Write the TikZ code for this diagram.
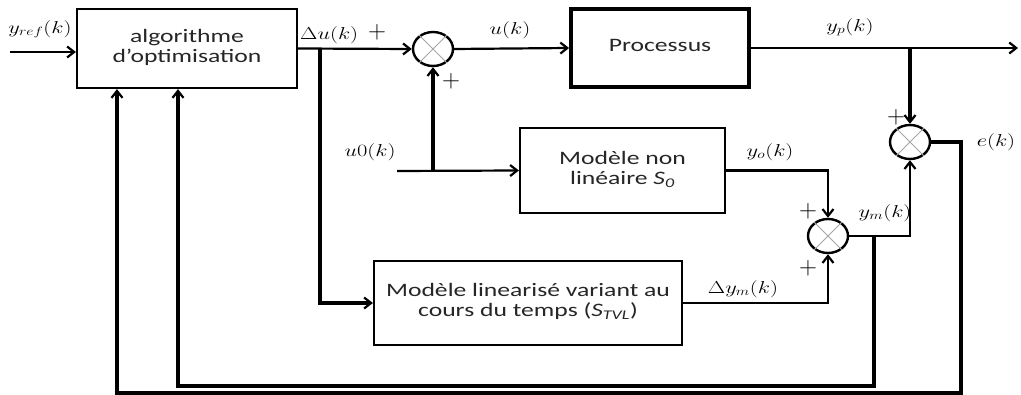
\documentclass[tikz,border=0pt]{standalone}
\usepackage{fontspec}
\setmainfont{Carlito}
\usetikzlibrary{arrows.meta,shapes.geometric}
\newcommand{\wtxt}[1]{\scalebox{1.35}[1]{\begin{tabular}{@{}c@{}}#1\end{tabular}}}
\newcommand{\wlbl}[1]{\scalebox{1.3}[1]{#1}}
\tikzset{
  blockbox/.style={draw, line width=2.2pt, fill=white, inner sep=0pt, text=black!85,
    font=\fontsize{19}{20}\selectfont},
  sumnode/.style={ellipse, draw, line width=2.4pt, minimum width=40pt, minimum height=34pt, inner sep=0pt},
  conn/.style={line width=2.2pt},
  thick conn/.style={line width=3.4pt},
  arr/.style={-{Straight Barb[length=7pt,width=11pt,line width=2.2pt]}},
  lbl/.style={font=\fontsize{17}{17}\selectfont, inner sep=1pt},
  plus/.style={font=\fontsize{24}{24}\selectfont, inner sep=0pt}
}
\newcommand{\sumx}[1]{\draw[gray!70, line width=1pt] (#1.45)--(#1.225) (#1.135)--(#1.315);}
\begin{document}
\begin{tikzpicture}[x=1pt,y=-1pt]
\useasboundingbox (0,0) rectangle (1021,395);
% blocks
\node[blockbox, minimum width=220pt, minimum height=79pt] (algo) at (187,48.5) {\wtxt{algorithme\\d'optimisation}};
\node[blockbox, line width=3.8pt, minimum width=178pt, minimum height=78pt] (proc) at (660,48) {\wtxt{Processus}};
\node[blockbox, minimum width=205pt, minimum height=85pt] (mnl) at (622.5,170.5) {\wtxt{Modèle non\\linéaire \textit{S\textsubscript{0}}}};
\node[blockbox, minimum width=308pt, minimum height=84pt] (lin) at (528,303) {\wtxt{Modèle linearisé variant au\\cours du temps (\textit{S\textsubscript{TVL}})}};
% summing junctions
\node[sumnode] (c1) at (433,49) {};
\node[sumnode] (c2) at (828,236) {};
\node[sumnode] (c3) at (910,142) {};
\sumx{c1}\sumx{c2}\sumx{c3}
% coordinates
\coordinate (yin) at (10,52);
\coordinate (yout) at (1018,48);
\coordinate (du) at (320,48.5);
\coordinate (u0in) at (397,171);
\coordinate (u0br) at (433,171);
\coordinate (ypbr) at (910,48);
\coordinate (ecorner) at (961,142);
\coordinate (ebot) at (961,393);
\coordinate (eleft) at (117,393);
\coordinate (ymbr) at (874,236);
\coordinate (ymbot) at (874,386);
\coordinate (ymleft) at (178,386);
\coordinate (yocorner) at (828,170.5);
\coordinate (dymcorner) at (828,303);
\coordinate (ymcorner) at (910,236);
% connectors
\draw[conn, arr] (yin) -- (yin -| algo.west);
\draw[conn, arr] (algo.east) -- (c1.west);
\draw[conn, arr] (c1.east) -- (proc.west);
\draw[line width=1.6pt, arr] (proc.east) -- (yout);
\draw[thick conn, arr] (ypbr) -- (c3.north);
\draw[thick conn, arr] (du) -- (du |- lin.west) -- (lin.west);
\draw[conn, arr] (u0in) -- (mnl.west);
\draw[thick conn, arr] (u0br) -- (c1.south);
\draw[conn, arr] (mnl.east |- yocorner) -- (yocorner) -- (c2.north);
\draw[conn, arr] (lin.east) -- (dymcorner) -- (c2.south);
\draw[conn, arr] (c2.east) -- (ymcorner) -- (c3.south);
\draw[thick conn, arr] (c3.east) -- (ecorner) -- (ebot) -- (eleft) -- (eleft |- algo.south);
\draw[thick conn, arr] (ymbr) -- (ymbot) -- (ymleft) -- (ymleft |- algo.south);
% labels
\node[lbl] (lyref) at (40,29) {\wlbl{$y_{ref}(k)$}};
\node[lbl, anchor=west] (ldu) at (299,35) {\wlbl{$\Delta u(k)$}};
\node[lbl] (lu) at (510,30) {\wlbl{$u(k)$}};
\node[lbl] (lyp) at (850,27) {\wlbl{$y_p(k)$}};
\node[lbl] (lu0) at (370,152) {\wlbl{$u0(k)$}};
\node[lbl] (lyo) at (770,152) {\wlbl{$y_o(k)$}};
\node[lbl] (lym) at (885,213) {\wlbl{$y_m(k)$}};
\node[lbl] (ldym) at (743,289) {\wlbl{$\Delta y_m(k)$}};
\node[lbl] (le) at (996,142) {\wlbl{$e(k)$}};
\node[plus] (p1) at (377,32) {$+$};
\node[plus] (p2) at (451,81) {$+$};
\node[plus] (p3) at (896,117) {$+$};
\node[plus] (p4) at (808,211) {$+$};
\node[plus] (p5) at (808,268) {$+$};
\end{tikzpicture}
\end{document}
